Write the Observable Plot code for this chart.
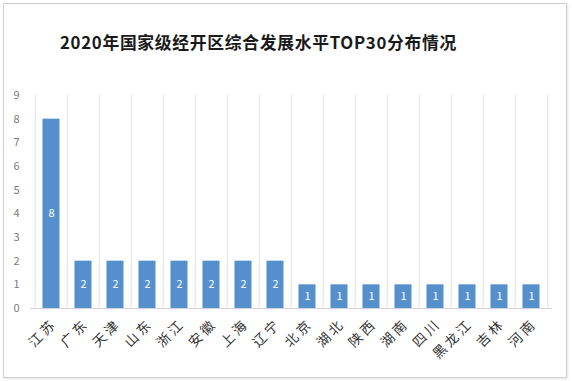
<!DOCTYPE html>
<html><head><meta charset="utf-8">
<script src="https://cdn.jsdelivr.net/npm/d3@7"></script>
<script src="https://cdn.jsdelivr.net/npm/@observablehq/plot@0.6"></script>
<style>
body{margin:0;background:#fff;}
#wrap{position:relative;width:572px;height:381px;overflow:hidden;background:#fff;font-family:"Noto Sans CJK SC",sans-serif;}
#frame{position:absolute;left:3px;top:3px;width:562px;height:373px;border:1px solid #cfcfcf;box-shadow:1px 1px 2px #e4e4e4;}
#title{position:absolute;left:60px;top:32px;font-size:16.8px;font-weight:bold;color:#1a1a1a;letter-spacing:0.7px;white-space:nowrap;line-height:20px;}
#chart{position:absolute;left:0;top:0;}
#chart g[aria-label="x-axis tick label"] text{letter-spacing:3px;}
</style></head>
<body>
<div id="wrap">
<div id="frame"></div>
<div id="title">2020年国家级经开区综合发展水平TOP30分布情况</div>
<div id="chart"></div>
</div>
<script>
const provinces = ["江苏","广东","天津","山东","浙江","安徽","上海","辽宁","北京","湖北","陕西","湖南","四川","黑龙江","吉林","河南"];
const counts = [8,2,2,2,2,2,2,2,1,1,1,1,1,1,1,1];
const yTicks = [0,1,2,3,4,5,6,7,8,9];

const data = provinces.map((p,i)=>({province:p, count:counts[i]}));
const W = 572, H = 381, mL = 30, mR = 20;
const bw = (W - mL - mR) / provinces.length;

const chart = Plot.plot({
  width: W, height: H,
  marginLeft: mL, marginRight: mR, marginTop: 95, marginBottom: 73,
  style: {fontFamily: "'Noto Sans CJK SC', sans-serif", background: "transparent", overflow: "visible"},
  x: {domain: provinces, padding: 0, label: null},
  y: {domain: [0,9], label: null},
  marks: [
    Plot.ruleX(provinces, {x: d=>d, dx: -bw/2, y1: 0, y2: 9, stroke: "#e2e2e2"}),
    Plot.ruleX([provinces[provinces.length-1]], {x: d=>d, dx: bw/2, y1: 0, y2: 9, stroke: "#e2e2e2"}),
    Plot.barY(data, {x: "province", y: "count", fill: "#5590cc", insetLeft: 7.5, insetRight: 7.5}),
    Plot.ruleY([0], {stroke: "#d6d6d6"}),
    Plot.text(data, {x: "province", y: d=>d.count/2, text: d=>String(d.count), fill: "#ffffff", fontSize: 11}),
    Plot.axisY({ticks: yTicks, tickSize: 0, tickPadding: 11, fontSize: 11, color: "#7a7a7a", tickFormat: d=>String(d)}),
    Plot.axisX({tickSize: 0, tickRotate: -45, tickPadding: 13, dx: 3, fontSize: 13.5, color: "#333"})
  ]
});
document.getElementById("chart").appendChild(chart);
</script>
</body></html>
